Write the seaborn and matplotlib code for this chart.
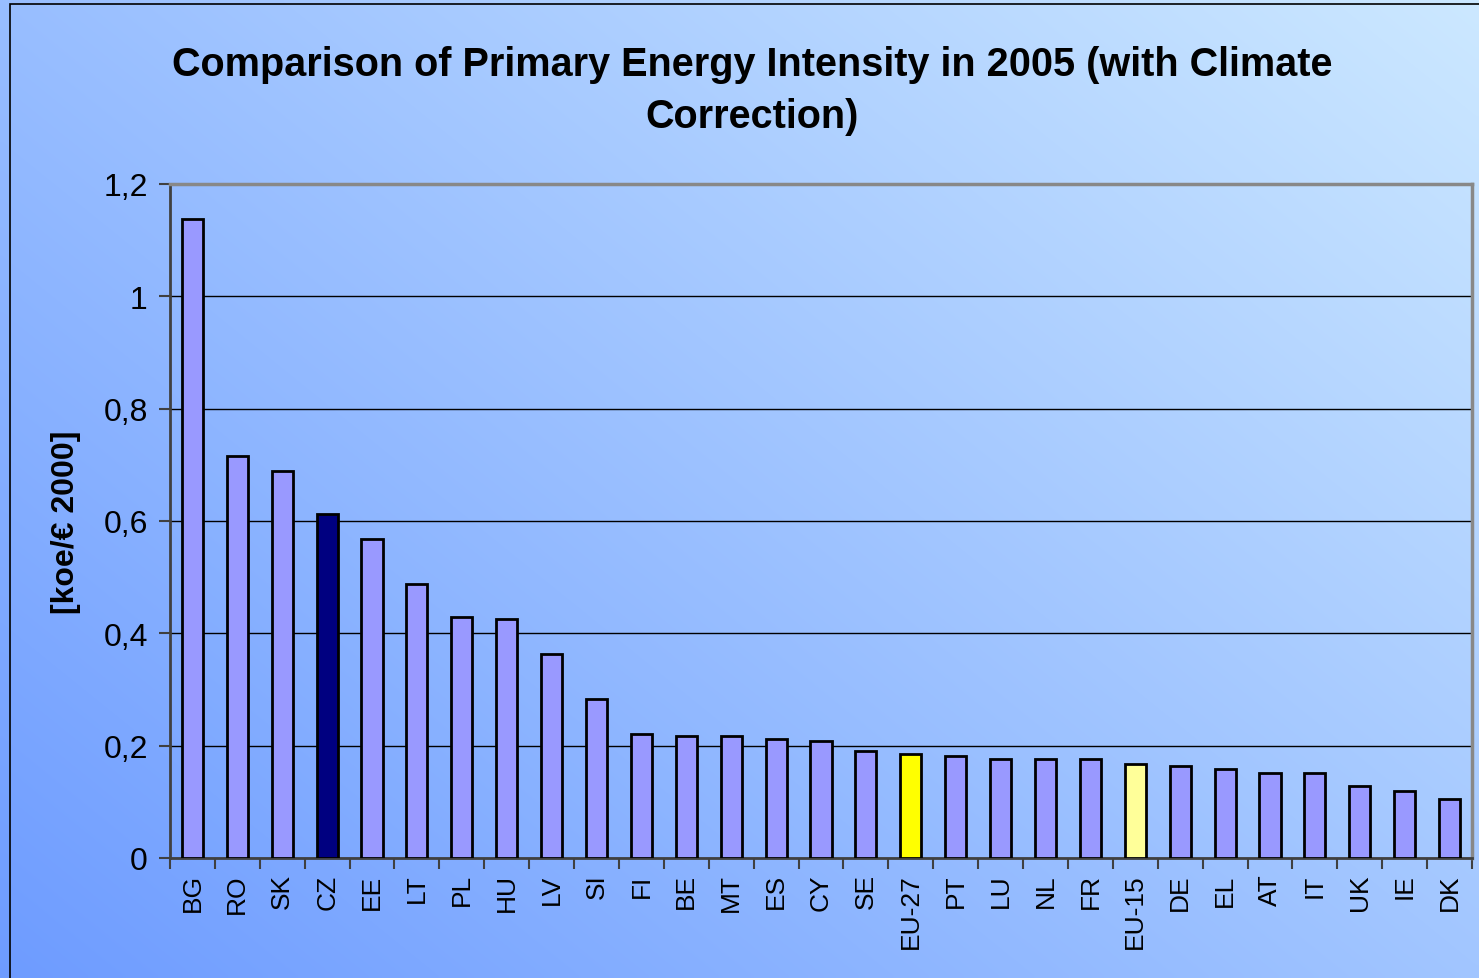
import numpy as np
import pandas as pd
import matplotlib
matplotlib.use("Agg")
import matplotlib.pyplot as plt
import seaborn as sns
from matplotlib.patches import Rectangle
from matplotlib.ticker import FixedLocator

categories = ["BG", "RO", "SK", "CZ", "EE", "LT", "PL", "HU", "LV", "SI", "FI", "BE", "MT", "ES",
              "CY", "SE", "EU-27", "PT", "LU", "NL", "FR", "EU-15", "DE", "EL", "AT", "IT", "UK", "IE", "DK"]
values = [1.138, 0.716, 0.689, 0.612, 0.568, 0.488, 0.429, 0.426, 0.363, 0.283, 0.221, 0.217, 0.217, 0.212,
          0.208, 0.190, 0.185, 0.182, 0.176, 0.176, 0.176, 0.167, 0.164, 0.158, 0.151, 0.151, 0.128, 0.119, 0.105]
ytick_values = [0, 0.2, 0.4, 0.6, 0.8, 1.0, 1.2]
ytick_labels = ["0", "0,2", "0,4", "0,6", "0,8", "1", "1,2"]

highlight = {"CZ": "#000080", "EU-27": "#ffff00", "EU-15": "#ffff99"}
palette = {c: highlight.get(c, "#9999ff") for c in categories}

df = pd.DataFrame({"country": categories, "value": values})

sns.set_theme(style="white")
plt.rcParams['font.family'] = ['Liberation Sans', 'DejaVu Sans']
plt.rcParams['text.color'] = 'black'
plt.rcParams['axes.labelcolor'] = 'black'
plt.rcParams['xtick.color'] = 'black'
plt.rcParams['ytick.color'] = 'black'

W, H = 1479, 979
fig = plt.figure(figsize=(W / 100, H / 100), dpi=100)
fig.patch.set_alpha(0)

# gradient background
bg = fig.add_axes([0, 0, 1, 1], zorder=-10)
nx, ny = 300, 200
xx, yy = np.meshgrid(np.linspace(0, 1, nx), np.linspace(1, 0, ny))
t = (xx * 0.55 + yy * 0.45)
c0 = np.array([0.43, 0.61, 1.0])
c1 = np.array([0.80, 0.91, 1.0])
img = c0[None, None, :] * (1 - t[..., None]) + c1[None, None, :] * t[..., None]
bg.imshow(img, extent=[0, 1, 0, 1], aspect="auto", interpolation="bilinear")
bg.set_xlim(0, 1)
bg.set_ylim(0, 1)
bg.axis("off")
bg.add_patch(Rectangle((10 / W, -0.1), 1.2, 1 - 5 / H + 0.1, fill=False, edgecolor="black", linewidth=1.2,
                       transform=bg.transAxes, clip_on=False))

left, right, top, bottom = 170, 1472, 185, 859
ax = fig.add_axes([left / W, 1 - bottom / H, (right - left) / W, (bottom - top) / H])
ax.set_facecolor("none")

sns.barplot(data=df, x="country", y="value", hue="country", palette=palette, legend=False,
            width=0.47, edgecolor="black", linewidth=2, saturation=1, ax=ax, zorder=3)

ax.set_xlim(-0.5, len(categories) - 0.5)
ax.set_ylim(0, 1.2)
ax.set_yticks(ytick_values)
ax.set_yticklabels(ytick_labels, fontsize=23)
ax.yaxis.grid(True, color="black", linewidth=1)
ax.set_axisbelow(True)

ax.set_xticks(range(len(categories)))
ax.set_xticklabels(categories, rotation=90, fontsize=19)
ax.tick_params(axis="x", which="major", length=0, pad=11)
ax.xaxis.set_minor_locator(FixedLocator(np.arange(-0.5, len(categories), 1.0)))
ax.tick_params(axis="x", which="minor", length=8, width=1.5, color="#404040", direction="out", bottom=True)
ax.tick_params(axis="y", which="major", length=8, width=1.5, color="#404040", direction="out", left=True,
               pad=8, labelcolor="black")

for s in ["left", "bottom"]:
    ax.spines[s].set_color("#404040")
    ax.spines[s].set_linewidth(2)
for s in ["top", "right"]:
    ax.spines[s].set_color("#888888")
    ax.spines[s].set_linewidth(2.5)

ax.set_xlabel("")
ax.set_ylabel("[koe/€ 2000]", fontsize=23, fontweight="bold", labelpad=16, color="black")

fig.text(752 / W, 1 - 91 / H, "Comparison of Primary Energy Intensity in 2005 (with Climate\nCorrection)",
         ha="center", va="center", fontsize=28.5, fontweight="bold", linespacing=1.5, color="black")

fig.savefig("out.png", dpi=100)
